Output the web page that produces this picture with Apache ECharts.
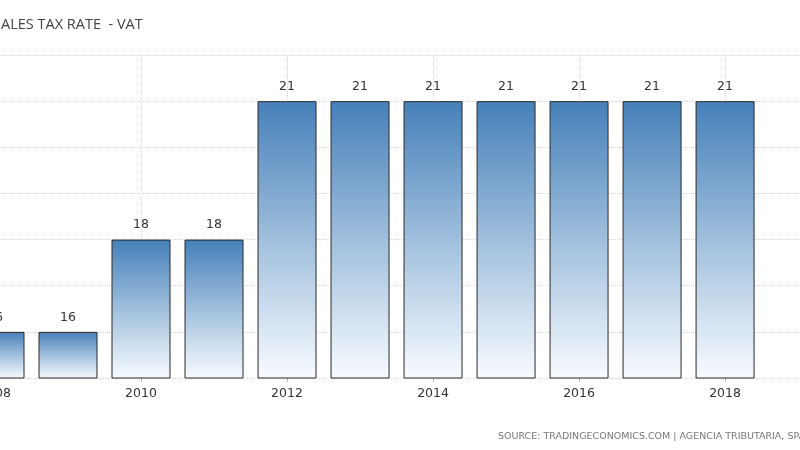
<!DOCTYPE html>
<html><head><meta charset="utf-8">
<script src="https://cdn.jsdelivr.net/npm/echarts@6/dist/echarts.min.js"></script>
<style>html,body{margin:0;padding:0;background:#fff}#c{width:800px;height:450px}</style>
</head><body><div id="c"></div>
<script>
const years = [2008, 2009, 2010, 2011, 2012, 2013, 2014, 2015, 2016, 2017, 2018];
const vatRate = [16, 16, 18, 18, 21, 21, 21, 21, 21, 21, 21];
const titleText = 'ALES TAX RATE  - VAT';
const sourceText = 'SOURCE: TRADINGECONOMICS.COM | AGENCIA TRIBUTARIA, SPAIN';

const chart = echarts.init(document.getElementById('c'));
chart.setOption({
  animation: false,
  backgroundColor: '#fff',
  title: [
    {text: titleText, left: -4, top: 12,
     textStyle: {fontFamily: 'Open Sans', fontSize: 14.5, fontWeight: 'normal', color: '#444'}},
    {text: sourceText, left: 493, top: 427,
     textStyle: {fontFamily: 'DejaVu Sans', fontSize: 9.5, fontWeight: 'normal', color: '#777'}}
  ],
  grid: {left: -5, right: -1, top: 55, bottom: 72, containLabel: false, outerBoundsMode: 'none'},
  xAxis: {
    type: 'value', min: 2008, max: 2019.04, interval: 2,
    axisLine: {show: false},
    axisTick: {show: true, length: 4, lineStyle: {color: '#bbb'}},
    axisLabel: {show: true, margin: 9, color: '#333', fontFamily: 'DejaVu Sans', fontSize: 12.5,
      showMaxLabel: false,
      formatter: v => (v % 2 === 0 ? String(v) : '')},
    splitLine: {show: true, lineStyle: {type: 'dotted', color: '#d6d6d6'}}
  },
  yAxis: {
    type: 'value', min: 15, max: 22, interval: 1,
    axisLabel: {show: false}, axisLine: {show: false}, axisTick: {show: false},
    splitLine: {show: true, lineStyle: {type: 'dotted', color: '#d6d6d6'}}
  },
  series: [{
    type: 'bar',
    barWidth: 59,
    data: years.map((y, i) => [y, vatRate[i]]),
    itemStyle: {
      borderColor: '#2a2a2a', borderWidth: 1,
      color: new echarts.graphic.LinearGradient(0, 0, 0, 1, [
        {offset: 0, color: '#4580b9'},
        {offset: 0.5, color: '#a0bfdd'},
        {offset: 1, color: '#f8fbff'}
      ])
    },
    label: {show: true, position: 'top', distance: 8, color: '#333',
      fontFamily: 'DejaVu Sans', fontSize: 12.5, formatter: p => p.value[1]}
  }]
});
</script></body></html>
